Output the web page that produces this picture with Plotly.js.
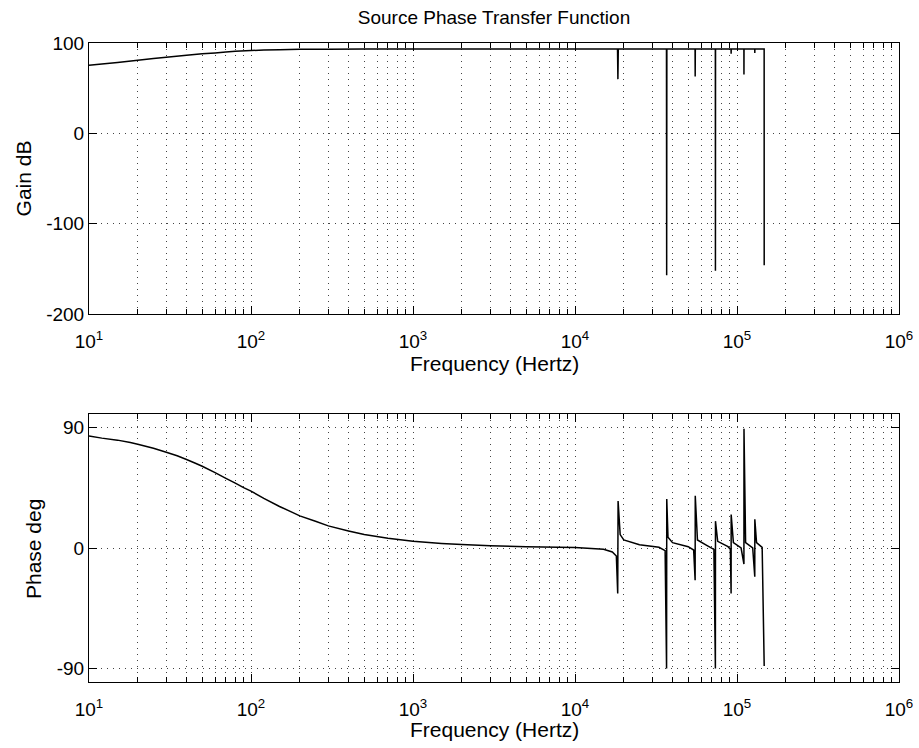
<!DOCTYPE html>
<html>
<head>
<meta charset="utf-8">
<script src="https://cdn.plot.ly/plotly-3.0.1.min.js"></script>
<style>html,body{margin:0;padding:0;background:#fff;}#plot{width:919px;height:748px;}</style>
</head>
<body>
<div id="plot"></div>
<script>
// Gain (dB) vs frequency (Hz)
const gainFreq = [10, 12, 15, 20, 25, 30, 40, 50, 60, 70, 80, 100, 120, 150, 200, 300, 500, 1000, 3000, 10000,
  18300, 18400, 18500, 36700, 36800, 36900, 55100, 55200, 55300, 73500, 73600, 73700,
  91900, 92000, 92100, 110300, 110400, 110500, 128700, 128800, 128900, 147100, 147200];
const gainDb = [75.5, 76.8, 78.5, 81, 82.8, 84.3, 86.4, 88, 89, 90, 90.8, 91.7, 92.2, 92.6, 93, 93.2, 93.3, 93.3, 93.3, 93.3,
  93.3, 60, 93.3, 93.3, -157, 93.3, 93.3, 63, 93.3, 93.3, -152, 93.3,
  93.3, 88, 93.3, 93.3, 65, 93.3, 93.3, 89, 93.3, 93.3, -146];

// Phase (deg) vs frequency (Hz)
const phaseFreq = [10, 12, 15, 18, 20, 25, 30, 35, 40, 45, 50, 60, 70, 80, 90, 100, 120, 150, 180, 200, 250, 300, 400, 500, 700,
  1000, 1500, 2000, 3000, 5000, 10000,
  15000, 17000, 18000, 18350, 18450, 19000, 20000, 25000, 33000, 36000,
  36750, 36850, 37500, 40000, 50000, 54000, 55150, 55250, 57000, 65000,
  72000, 73550, 73650, 76000, 88000, 91000, 91950, 92050, 95000, 106000,
  110350, 110450, 113000, 125000, 128750, 128850, 132000, 143000, 147200];
const phaseDeg = [83.5, 82, 80.5, 78.7, 77.5, 74.5, 71.5, 68.8, 66, 63.4, 61, 56.3, 52, 48.4, 45, 42.5, 37, 31, 26.6, 24, 20, 16.5, 12.7, 10, 7.3,
  5, 3.4, 2.6, 1.7, 1, 0.3,
  -1, -3, -6, -34, 35, 10, 6, 2.5, 0.5, -2,
  -90, 36.5, 8, 4, 1, -1.5, -24, 39, 6, 2,
  -1, -90, 20, 5, 1, -1, -34, 25, 4, 0,
  -12, 89, 4, 0, -21.5, 21.5, 4, 0.5, -88];

const decadeVals = [10, 100, 1000, 10000, 100000, 1000000];
const decadeText = ['10<sup>1</sup>', '10<sup>2</sup>', '10<sup>3</sup>', '10<sup>4</sup>', '10<sup>5</sup>', '10<sup>6</sup>'];
const gainTicks = [-200, -100, 0, 100];
const gainTickText = ['-200', '-100', '0', '100'];
const phaseTicks = [-90, 0, 90];
const phaseTickText = ['-90', '0', '90'];

const minorVals = [];
for (let d = 10; d < 1e6; d *= 10) for (let k = 2; k <= 9; k++) minorVals.push(k * d);

const FONT = 'Liberation Sans, Arial, Helvetica, sans-serif';
const gridDash = '1px,5px';
const TICKSIZE = 19, LABELSIZE = 21;

function xAxis(anchor) {
  return {
    type: 'log', range: [1, 6], anchor: anchor,
    tickmode: 'array', tickvals: decadeVals, ticktext: decadeText,
    ticks: 'inside', ticklen: 8, tickcolor: '#000', mirror: 'allticks',
    showline: true, linecolor: '#000', linewidth: 1,
    showgrid: true, gridcolor: '#444', griddash: gridDash, gridwidth: 1,
    minor: { tickmode: 'array', tickvals: minorVals, ticks: 'inside', ticklen: 5, tickcolor: '#000',
             showgrid: true, gridcolor: '#444', griddash: gridDash, gridwidth: 1 },
    tickfont: { family: FONT, size: TICKSIZE, color: '#000' },
    ticklabelstandoff: 10,
    zeroline: false, automargin: false
  };
}
function yAxis(anchor, domain, range, ticks, text) {
  return {
    anchor: anchor, domain: domain, range: range,
    tickmode: 'array', tickvals: ticks, ticktext: text,
    ticks: 'inside', ticklen: 8, tickcolor: '#000', mirror: 'allticks',
    showline: true, linecolor: '#000', linewidth: 1,
    showgrid: true, gridcolor: '#444', griddash: gridDash, gridwidth: 1,
    tickfont: { family: FONT, size: TICKSIZE, color: '#000' },
    zeroline: false, automargin: false
  };
}

const traces = [
  { x: gainFreq, y: gainDb, xaxis: 'x', yaxis: 'y', type: 'scatter', mode: 'lines',
    line: { color: '#000', width: 1.5, simplify: false }, hoverinfo: 'skip' },
  { x: phaseFreq, y: phaseDeg, xaxis: 'x2', yaxis: 'y2', type: 'scatter', mode: 'lines',
    line: { color: '#000', width: 1.5, simplify: false }, hoverinfo: 'skip' }
];

const lab = (text, x, y, angle) => ({
  text: text, xref: 'paper', yref: 'paper', x: x, y: y, xanchor: 'center', yanchor: 'middle',
  textangle: angle || 0, showarrow: false, font: { family: FONT, size: LABELSIZE, color: '#000' }
});

const layout = {
  width: 919, height: 748,
  paper_bgcolor: '#fff', plot_bgcolor: '#fff',
  showlegend: false,
  margin: { l: 89, r: 20, t: 43, b: 66 },
  font: { family: FONT, color: '#000' },
  title: { text: 'Source Phase Transfer Function', font: { family: FONT, size: 19, color: '#000' },
           xref: 'paper', x: 0.5, xanchor: 'center', yref: 'container', y: 1 - 17 / 748, yanchor: 'middle' },
  xaxis: xAxis('y'),
  yaxis: yAxis('x', [0.5759, 1], [-200, 100], gainTicks, gainTickText),
  xaxis2: xAxis('y2'),
  yaxis2: yAxis('x2', [0, 0.4194], [-100, 100], phaseTicks, phaseTickText),
  annotations: [
    lab('Frequency (Hertz)', 0.5, 0.4992),
    lab('Frequency (Hertz)', 0.5, -0.0751),
    lab('Gain dB', -0.0815, 0.788, -90),
    lab('Phase deg', -0.0691, 0.2081, -90)
  ]
};

Plotly.newPlot('plot', traces, layout, { displayModeBar: false, staticPlot: true });
</script>
</body>
</html>
